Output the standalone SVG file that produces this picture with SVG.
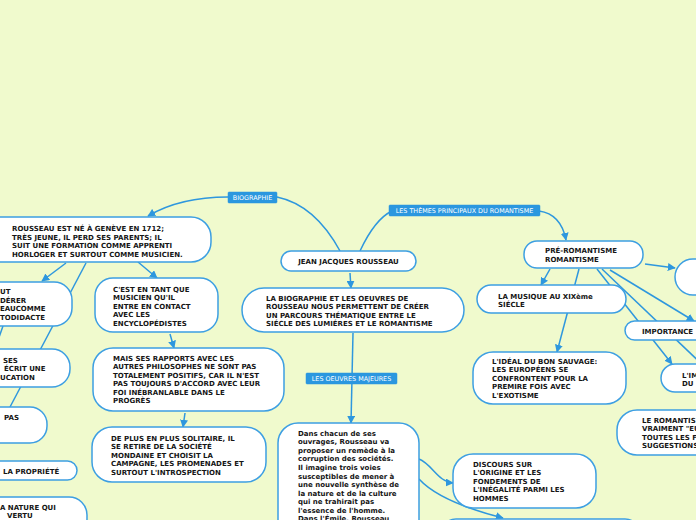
<svg xmlns="http://www.w3.org/2000/svg" width="696" height="520" viewBox="0 0 696 520">
<style>
.bg{fill:#f0facd}
.n{fill:#ffffff;stroke:#3d9fe2;stroke-width:1.5}
.t{font-family:"DejaVu Sans",Verdana,sans-serif;font-weight:bold;font-size:7px;fill:#151515}
.c{fill:none;stroke:#2e97de;stroke-width:1.5}
.lb{fill:#2b97df;stroke:#2b97df;stroke-width:0.5}
.lt{font-family:"DejaVu Sans",Verdana,sans-serif;font-size:6.4px;fill:#ffffff;text-anchor:middle}
</style>
<defs>
<marker id="ah" markerUnits="userSpaceOnUse" markerWidth="8" markerHeight="8" viewBox="0 0 10 10" refX="9" refY="5" orient="auto">
<path d="M0,0 L10,5 L0,10 z" fill="#2e97de"/>
</marker>
</defs>
<rect class="bg" x="0" y="0" width="696" height="520"/>
<g id="connectors">
<path class="c" d="M340,251 Q315,205 277,197"/>
<path class="c" d="M228,197 Q180,197 148,216" marker-end="url(#ah)"/>
<path class="c" d="M360,251 Q375,219 392,211"/>
<path class="c" d="M539,211 Q561,214 566,240" marker-end="url(#ah)"/>
<path class="c" d="M350,273 L351,288" marker-end="url(#ah)"/>
<path class="c" d="M353,333 L351,423" marker-end="url(#ah)"/>
<path class="c" d="M66,263 L42,281" marker-end="url(#ah)"/>
<path class="c" d="M86,263 L10,407"/>
<path class="c" d="M3,326 L-4,346"/>
<path class="c" d="M138,262 L157,278" marker-end="url(#ah)"/>
<path class="c" d="M170,334 L174,348" marker-end="url(#ah)"/>
<path class="c" d="M185,413 L183,427" marker-end="url(#ah)"/>
<path class="c" d="M550,269 L541,285" marker-end="url(#ah)"/>
<path class="c" d="M579,269 L557,352" marker-end="url(#ah)"/>
<path class="c" d="M645,264 L675,268" marker-end="url(#ah)"/>
<path class="c" d="M610,270 L694,321" marker-end="url(#ah)"/>
<path class="c" d="M597,269 L672,364" marker-end="url(#ah)"/>
<path class="c" d="M602,269 L710,372"/>
<path class="c" d="M419,459 C432,464 438,482 453,483" marker-end="url(#ah)"/>
<path class="c" d="M419,479 Q440,502 503,518" marker-end="url(#ah)"/>
</g>
<g id="label-biographie">
<rect class="lb" x="228" y="192" width="49" height="11" rx="1"/>
<text class="lt" x="252.5" y="199.8">BIOGRAPHIE</text>
</g>
<g id="label-themes">
<rect class="lb" x="389" y="205" width="151" height="11" rx="1"/>
<text class="lt" x="464.5" y="212.8">LES THÈMES PRINCIPAUX DU ROMANTISME</text>
</g>
<g id="label-oeuvres">
<rect class="lb" x="306" y="373" width="91" height="11" rx="1"/>
<text class="lt" x="351.5" y="380.8">LES OEUVRES MAJEURES</text>
</g>
<g id="node-ne-geneve">
<rect class="n" x="-20" y="217" width="231" height="45" rx="20"/>
<text class="t" x="12" y="231">ROUSSEAU EST NÉ À GENÈVE EN 1712;</text>
<text class="t" x="12" y="239.5">TRÈS JEUNE, IL PERD SES PARENTS; IL</text>
<text class="t" x="12" y="248">SUIT UNE FORMATION COMME APPRENTI</text>
<text class="t" x="12" y="256.5">HORLOGER ET SURTOUT COMME MUSICIEN.</text>
</g>
<g id="node-autodidacte">
<rect class="n" x="-20" y="282" width="92" height="44" rx="18"/>
<text class="t" x="0" y="294">UT</text>
<text class="t" x="0" y="302.5">DÉRER</text>
<text class="t" x="0" y="311">EAUCOMME</text>
<text class="t" x="0" y="319.5">TODIDACTE</text>
</g>
<g id="node-education">
<rect class="n" x="-20" y="349" width="90" height="38" rx="18"/>
<text class="t" x="3" y="362.5">SES</text>
<text class="t" x="4" y="371">ÉCRIT UNE</text>
<text class="t" x="0" y="379.5">UCATION</text>
</g>
<g id="node-pas">
<rect class="n" x="-20" y="407" width="67" height="36" rx="17"/>
<text class="t" x="4" y="419.5">PAS</text>
</g>
<g id="node-propriete">
<rect class="n" x="-20" y="461" width="97" height="19" rx="9.5"/>
<text class="t" x="3" y="473.5">LA PROPRIÉTÉ</text>
</g>
<g id="node-nature">
<rect class="n" x="-20" y="497" width="107" height="40" rx="18"/>
<text class="t" x="0" y="509.5">A NATURE QUI</text>
<text class="t" x="7" y="518">VERTU</text>
</g>
<g id="node-musicien">
<rect class="n" x="95" y="278" width="123" height="54" rx="18"/>
<text class="t" x="113" y="291.5">C'EST EN TANT QUE</text>
<text class="t" x="113" y="300">MUSICIEN QU'IL</text>
<text class="t" x="113" y="308.5">ENTRE EN CONTACT</text>
<text class="t" x="113" y="317">AVEC LES</text>
<text class="t" x="113" y="325.5">ENCYCLOPÉDISTES</text>
</g>
<g id="node-rapports">
<rect class="n" x="93" y="348" width="191" height="63" rx="20"/>
<text class="t" x="113" y="360.5">MAIS SES RAPPORTS AVEC LES</text>
<text class="t" x="113" y="369">AUTRES PHILOSOPHES NE SONT PAS</text>
<text class="t" x="113" y="377.5">TOTALEMENT POSITIFS, CAR IL N'EST</text>
<text class="t" x="113" y="386">PAS TOUJOURS D'ACCORD AVEC LEUR</text>
<text class="t" x="113" y="394.5">FOI INÉBRANLABLE DANS LE</text>
<text class="t" x="113" y="403">PROGRÈS</text>
</g>
<g id="node-solitaire">
<rect class="n" x="92" y="427" width="174" height="55" rx="20"/>
<text class="t" x="111" y="440.5">DE PLUS EN PLUS SOLITAIRE, IL</text>
<text class="t" x="111" y="449">SE RETIRE DE LA SOCIÉTÉ</text>
<text class="t" x="111" y="457.5">MONDAINE ET CHOISIT LA</text>
<text class="t" x="111" y="466">CAMPAGNE, LES PROMENADES ET</text>
<text class="t" x="111" y="474.5">SURTOUT L'INTROSPECTION</text>
</g>
<g id="node-rousseau">
<rect class="n" x="281" y="251" width="135" height="20" rx="10"/>
<text class="t" x="348.5" y="264.3" text-anchor="middle">JEAN JACQUES ROUSSEAU</text>
</g>
<g id="node-parcours">
<rect class="n" x="242" y="288" width="222" height="44" rx="22"/>
<text class="t" x="266" y="300.5">LA BIOGRAPHIE ET LES OEUVRES DE</text>
<text class="t" x="266" y="309">ROUSSEAU NOUS PERMETTENT DE CRÉER</text>
<text class="t" x="266" y="317.5">UN PARCOURS THÉMATIQUE ENTRE LE</text>
<text class="t" x="266" y="326">SIÉCLE DES LUMIÉRES ET LE ROMANTISME</text>
</g>
<g id="node-ouvrages">
<rect class="n" x="278" y="423" width="141" height="120" rx="20"/>
<text class="t" x="298" y="435.6">Dans chacun de ses</text>
<text class="t" x="298" y="444.2">ouvrages, Rousseau va</text>
<text class="t" x="298" y="452.7">proposer un remède à la</text>
<text class="t" x="298" y="461.3">corruption des sociétés.</text>
<text class="t" x="298" y="469.9">Il imagine trois voies</text>
<text class="t" x="298" y="478.5">susceptibles de mener à</text>
<text class="t" x="298" y="487">une nouvelle synthèse de</text>
<text class="t" x="298" y="495.6">la nature et de la culture</text>
<text class="t" x="298" y="504.2">qui ne trahirait pas</text>
<text class="t" x="298" y="512.7">l'essence de l'homme.</text>
<text class="t" x="298" y="521.3">Dans l'Émile, Rousseau</text>
</g>
<g id="node-preromantisme">
<rect class="n" x="524" y="241" width="119" height="27" rx="13"/>
<text class="t" x="545" y="253.4">PRÉ-ROMANTISME</text>
<text class="t" x="545" y="262">ROMANTISME</text>
</g>
<g id="node-musique">
<rect class="n" x="477" y="285" width="149" height="28" rx="14"/>
<text class="t" x="498" y="298.6">LA MUSIQUE AU XIXème</text>
<text class="t" x="498" y="307">SIÉCLE</text>
</g>
<g id="node-sauvage">
<rect class="n" x="473" y="352" width="153" height="52" rx="20"/>
<text class="t" x="492" y="363.5">L'IDÉAL DU BON SAUVAGE:</text>
<text class="t" x="492" y="372">LES EUROPÉENS SE</text>
<text class="t" x="492" y="380.5">CONFRONTENT POUR LA</text>
<text class="t" x="492" y="389">PREMIRE FOIS AVEC</text>
<text class="t" x="492" y="397.5">L'EXOTISME</text>
</g>
<g id="node-right-top">
<rect class="n" x="675" y="259" width="60" height="36" rx="18"/>
</g>
<g id="node-importance">
<rect class="n" x="625" y="321" width="100" height="19" rx="9.5"/>
<text class="t" x="642" y="333.6">IMPORTANCE</text>
</g>
<g id="node-im">
<rect class="n" x="661" y="364" width="60" height="28" rx="14"/>
<text class="t" x="682" y="377.6">L'IM</text>
<text class="t" x="682" y="386">DU</text>
</g>
<g id="node-romantisme">
<rect class="n" x="617" y="410" width="120" height="45" rx="20"/>
<text class="t" x="642" y="422.8">LE ROMANTIS</text>
<text class="t" x="642" y="431.3">VRAIMENT "EU</text>
<text class="t" x="642" y="439.8">TOUTES LES FO</text>
<text class="t" x="642" y="448.3">SUGGESTIONS</text>
</g>
<g id="node-discours">
<rect class="n" x="453" y="454" width="143" height="54" rx="20"/>
<text class="t" x="473" y="466.6">DISCOURS SUR</text>
<text class="t" x="473" y="475.1">L'ORIGINE ET LES</text>
<text class="t" x="473" y="483.6">FONDEMENTS DE</text>
<text class="t" x="473" y="492.2">L'INÉGALITÉ PARMI LES</text>
<text class="t" x="473" y="500.7">HOMMES</text>
</g>
<g id="node-bottom">
<rect class="n" x="441" y="519" width="199" height="30" rx="15"/>
</g>
</svg>
